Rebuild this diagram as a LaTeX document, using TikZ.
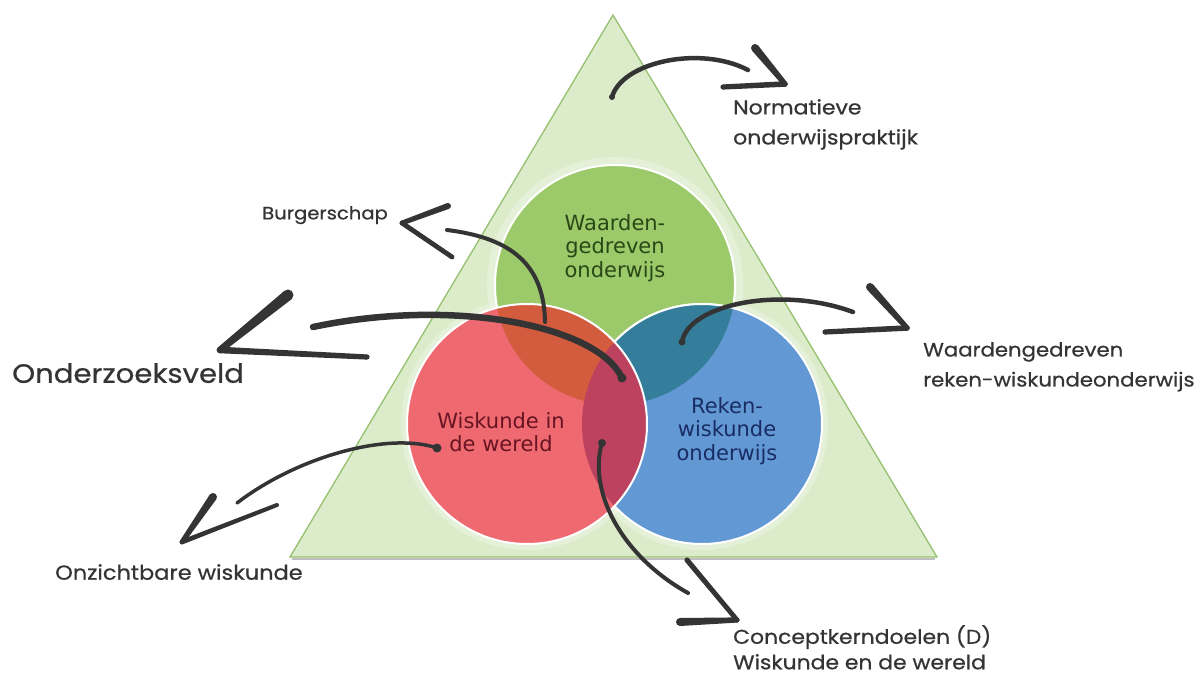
\documentclass[tikz,border=0pt]{standalone}
\usepackage{fontspec}
\setmainfont{DejaVu Sans}
\newfontfamily\handfont[FakeStretch=1.1, FakeBold=0.6]{Poppins}
\usetikzlibrary{calc}

\definecolor{trifill}{RGB}{220,236,202}
\definecolor{tristroke}{RGB}{150,192,112}
\definecolor{cgreen}{RGB}{156,201,106}
\definecolor{cred}{RGB}{238,106,112}
\definecolor{cblue}{RGB}{98,152,212}
\definecolor{lensRG}{RGB}{212,92,62}
\definecolor{lensGB}{RGB}{52,126,156}
\definecolor{lensRB}{RGB}{188,66,96}
\definecolor{tgreen}{RGB}{42,72,22}
\definecolor{tred}{RGB}{105,20,35}
\definecolor{tblue}{RGB}{25,45,100}
\definecolor{ink}{RGB}{52,52,52}

% tapered straight stroke: from #1 (half width #3) to #2 (half width #4)
\newcommand\taperline[4]{%
  \fill[ink] ($(#1)!#3!90:(#2)$) -- ($(#2)!#4!-90:(#1)$) -- ($(#2)!#4!90:(#1)$) -- ($(#1)!#3!-90:(#2)$) -- cycle;
  \fill[ink] (#1) circle[radius=#3];
  \fill[ink] (#2) circle[radius=#4];
}

\begin{document}
\begin{tikzpicture}[x=1pt,y=-1pt,
  ring/.style={draw=white, line width=2pt},
  glow/.style={fill=white, opacity=0.25},
  curve/.style={draw=ink, line width=4.5pt, line cap=round},
  hand/.style={font=\handfont\fontsize{20}{30}\selectfont, text=ink, inner sep=0pt, align=left, anchor=north west},
  circtext/.style={font=\fontsize{21}{23.5}\selectfont, align=center, inner sep=0pt}]

\useasboundingbox (0,0) rectangle (1195,676);
\fill[white] (0,0) rectangle (1195,676);

% triangle with a faint shadow under the base
\draw[black, opacity=0.25, line width=2pt] (292,559) -- (935,559);
\filldraw[fill=trifill, draw=tristroke, line width=1.3pt] (613,15) -- (937,557) -- (290,557) -- cycle;

% circles
\def\circG{(615,285) circle[radius=120pt]}
\def\circR{(527,424) circle[radius=120pt]}
\def\circB{(702,424) circle[radius=120pt]}

\fill[glow] (615,285) circle[radius=128pt];
\fill[glow] (527,424) circle[radius=126pt];
\fill[glow] (702,424) circle[radius=126pt];

\fill[cgreen] \circG; \draw[ring] \circG;
\fill[cblue] \circB; \draw[ring] \circB;
\begin{scope}
  \clip \circG;
  \fill[lensGB] \circB;
  \draw[ring] \circB;
\end{scope}
\fill[cred] \circR;
\begin{scope}
  \clip \circR;
  \fill[lensRG] \circG;
  \fill[lensRB] \circB;
\end{scope}
\draw[ring] \circR;

% circle texts
\node[circtext, text=tgreen] (tG) at (615,248) {Waarden-\\gedreven\\onderwijs};
\node[circtext, text=tred] (tR) at (501,432) {Wiskunde in\\de wereld};
\node[circtext, text=tblue] (tB) at (727,431) {Reken-\\wiskunde\\onderwijs};

% labels
\node[hand] (lblN) at (733,99) {Normatieve\\onderwijspraktijk};
\node[hand, font=\handfont\fontsize{19.3}{30}\selectfont] (lblW) at (923,342) {Waardengedreven\\reken-wiskundeonderwijs};
\node[hand, font=\handfont\fontsize{17.8}{30}\selectfont] (lblB) at (262,206) {Burgerschap};
\node[hand, font=\handfont\fontsize{26.5}{30}\selectfont] (lblO) at (12,363) {Onderzoeksveld};
\node[hand, font=\handfont\fontsize{20.4}{30}\selectfont] (lblZ) at (55,564) {Onzichtbare wiskunde};
\node[hand, font=\handfont\fontsize{19.9}{25.5}\selectfont] (lblC) at (733,625) {Conceptkerndoelen (D)\\Wiskunde en de wereld};

% arrow: Normatieve onderwijspraktijk
\coordinate (nS) at (612,97);
\coordinate (nE) at (748,70);
\coordinate (nT) at (785,84);
\coordinate (nU) at (755,48);
\coordinate (nL) at (723,87);
\draw[curve] (nS) .. controls (622,62) and (700,45) .. (nE);
\fill[ink] (nS) circle[radius=3pt];
\taperline{nU}{nT}{4pt}{2.6pt}
\taperline{nT}{nL}{2.8pt}{2.6pt}

% arrow: Waardengedreven reken-wiskundeonderwijs
\coordinate (wS) at (682,342);
\coordinate (wE) at (853,312);
\coordinate (wT) at (907,328);
\coordinate (wU) at (870,287);
\coordinate (wL) at (825,332);
\draw[curve] (wS) .. controls (688,305) and (780,285) .. (wE);
\fill[ink] (wS) circle[radius=3.5pt];
\taperline{wU}{wT}{4pt}{2.6pt}
\taperline{wT}{wL}{2.8pt}{2.6pt}

% arrow: Onderzoeksveld
\coordinate (oS) at (622,378);
\coordinate (oE) at (313,327);
\coordinate (oT) at (220,350);
\coordinate (oU) at (288,295);
\coordinate (oL) at (367,357);
\draw[curve, line width=6.5pt] (oS) .. controls (598,326) and (455,297) .. (oE);
\fill[ink] (oS) circle[radius=4.5pt];
\taperline{oU}{oT}{5.5pt}{3.3pt}
\taperline{oT}{oL}{3.3pt}{2.6pt}

% arrow: Burgerschap
\coordinate (bS) at (545,322);
\coordinate (bE) at (447,230);
\coordinate (bT) at (402,223);
\coordinate (bU) at (448,206);
\coordinate (bL) at (452,257);
\draw[curve, line width=4pt] (bS) .. controls (544,265) and (512,238) .. (bE);
\taperline{bU}{bT}{3pt}{2.4pt}
\taperline{bT}{bL}{2.4pt}{2.4pt}

% arrow: Onzichtbare wiskunde
\coordinate (zS) at (437,448);
\coordinate (zE) at (237,503);
\coordinate (zT) at (182,542);
\coordinate (zU) at (213,497);
\coordinate (zL) at (277,505);
\draw[curve, line width=3.5pt] (zS) .. controls (390,432) and (300,455) .. (zE);
\fill[ink] (zS) circle[radius=4.5pt];
\taperline{zU}{zT}{4pt}{2.4pt}
\taperline{zT}{zL}{2.4pt}{2pt}

% arrow: Conceptkerndoelen
\coordinate (cS) at (602,443);
\coordinate (cE) at (688,593);
\coordinate (cT) at (737,620);
\coordinate (cU) at (687,560);
\coordinate (cL) at (680,622);
\draw[curve, line width=4pt] (cS) .. controls (588,490) and (620,555) .. (cE);
\fill[ink] (cS) circle[radius=4pt];
\taperline{cU}{cT}{2.6pt}{2.4pt}
\taperline{cT}{cL}{2.6pt}{4pt}

\end{tikzpicture}
\end{document}
